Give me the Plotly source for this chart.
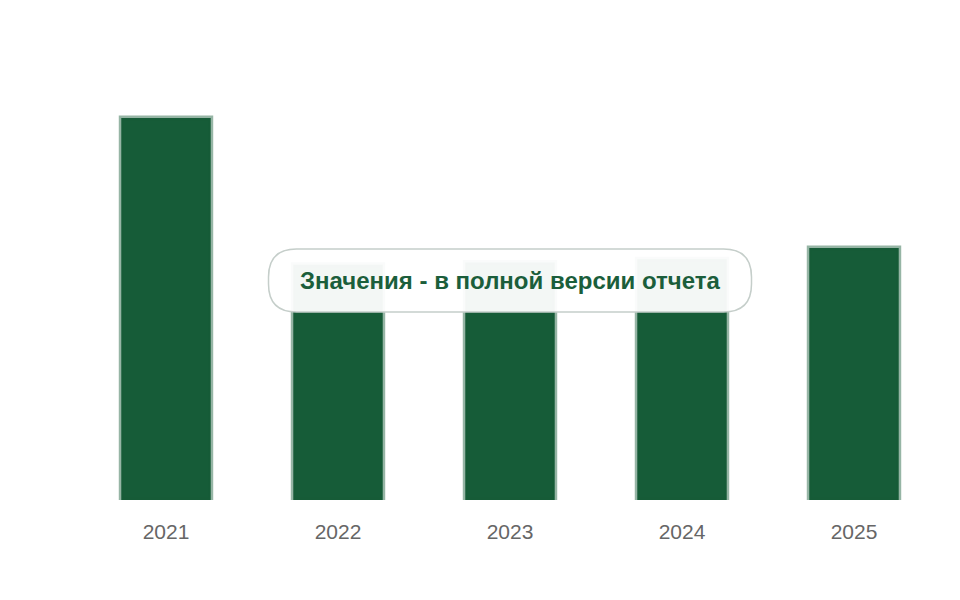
import plotly.graph_objects as go

years = ["2021", "2022", "2023", "2024", "2025"]
values = [3.41, 2.10, 2.12, 2.15, 2.25]
note_text = "Значения - в полной версии отчета"

BAR = "#165c38"

fig = go.Figure()
fig.add_trace(go.Bar(
    x=years, y=values,
    marker=dict(color=BAR, line=dict(color="rgba(22,92,56,0.45)", width=5)),
    hoverinfo="skip",
))

# pill-shaped note box (pixel offsets around center)
hw, hh, r = 241.5, 31.5, 28
path = (f"M {-hw + r},{hh} L {hw - r},{hh} Q {hw},{hh} {hw},{hh - r} "
        f"L {hw},{-hh + r} Q {hw},{-hh} {hw - r},{-hh} L {-hw + r},{-hh} "
        f"Q {-hw},{-hh} {-hw},{-hh + r} L {-hw},{hh - r} Q {-hw},{hh} {-hw + r},{hh} Z")
cx = (510 - 80) / 860
cy = (500 - 280.5) / 448
fig.add_shape(type="path", xref="paper", yref="paper",
              xsizemode="pixel", ysizemode="pixel",
              xanchor=cx, yanchor=cy, path=path,
              fillcolor="rgba(255,255,255,0.95)",
              line=dict(color="#c5ceca", width=1.5), layer="above")
fig.add_annotation(x=cx, y=cy, xref="paper", yref="paper", text=f"<b>{note_text}</b>",
                   showarrow=False, font=dict(family="Liberation Sans, Arial", size=24, color="#1b5e3b"))

fig.update_layout(
    width=960, height=600,
    margin=dict(l=80, r=20, t=52, b=100),
    plot_bgcolor="white", paper_bgcolor="white",
    bargap=0.48, showlegend=False,
    xaxis=dict(showgrid=False, showline=False, zeroline=False, ticks="",
               tickfont=dict(family="Liberation Sans, Arial", size=21, color="#666666"),
               ticklabelstandoff=17),
    yaxis=dict(range=[0, 4], showgrid=False, showticklabels=False, zeroline=False, showline=False),
)
fig.write_html("out.html")
